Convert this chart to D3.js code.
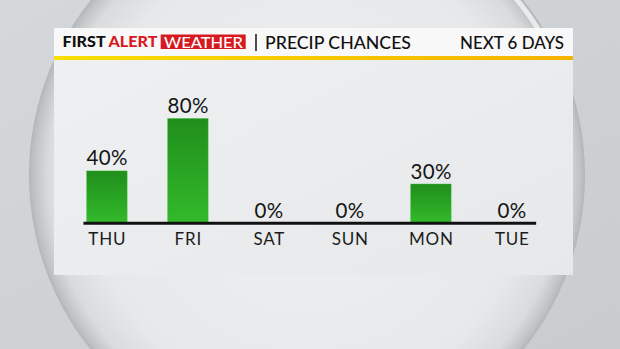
<!DOCTYPE html>
<html>
<head>
<meta charset="utf-8">
<script src="https://cdn.jsdelivr.net/npm/d3@7"></script>
<style>
  body { margin: 0; background: #d1d4d6; }
  svg { display: block; }
  .hdr { font-family: Lato, "Open Sans", sans-serif; fill: #111; }
  .val { font-family: Lato, "Open Sans", sans-serif; font-size: 20.5px; fill: #141414; text-anchor: middle; letter-spacing: 0.4px; }
  .day { font-family: Lato, "Open Sans", sans-serif; font-size: 17px; fill: #1c1c1c; text-anchor: middle; letter-spacing: 0.8px; }
</style>
</head>
<body>
<div id="chart"></div>
<script>
// chart data
var days = ["THU", "FRI", "SAT", "SUN", "MON", "TUE"];
var chances = [40, 80, 0, 0, 30, 0];
var valueLabels = ["40%", "80%", "0%", "0%", "30%", "0%"];

var width = 620, height = 349;

var svg = d3.select("#chart").append("svg")
    .attr("width", width)
    .attr("height", height);

var defs = svg.append("defs");

// background + the big sphere behind the panel
var bgGrad = defs.append("linearGradient").attr("id", "bg")
    .attr("x1", 0).attr("y1", 0).attr("x2", 1).attr("y2", 1);
bgGrad.append("stop").attr("offset", 0).attr("stop-color", "#d5d8da");
bgGrad.append("stop").attr("offset", 1).attr("stop-color", "#c9cccf");

var sphere = defs.append("radialGradient").attr("id", "sphere")
    .attr("cx", 0.5).attr("cy", 0.5).attr("r", 0.5);
sphere.append("stop").attr("offset", 0).attr("stop-color", "#f0f1f2");
sphere.append("stop").attr("offset", 0.8).attr("stop-color", "#e6e8e9");
sphere.append("stop").attr("offset", 0.93).attr("stop-color", "#d9dbdd");
sphere.append("stop").attr("offset", 0.985).attr("stop-color", "#bfc2c4");
sphere.append("stop").attr("offset", 1).attr("stop-color", "#b3b6b8");

svg.append("rect").attr("width", width).attr("height", height).attr("fill", "url(#bg)");

svg.append("circle")
    .attr("cx", 307).attr("cy", 175).attr("r", 278)
    .attr("fill", "url(#sphere)");

// light rim on the right side of the sphere
svg.append("path")
    .attr("d", d3.arc()({innerRadius: 271, outerRadius: 276, startAngle: 0.25, endAngle: 1.2}))
    .attr("transform", "translate(307,175)")
    .attr("fill", "#f2f4f5")
    .attr("opacity", 0.8);

// panel
var panel = {x: 54, y: 28, w: 519, h: 247, head: 28, stripe: 4};

var panelGrad = defs.append("linearGradient").attr("id", "panel")
    .attr("x1", 0).attr("y1", 0).attr("x2", 1).attr("y2", 1);
panelGrad.append("stop").attr("offset", 0).attr("stop-color", "#eef0f1");
panelGrad.append("stop").attr("offset", 1).attr("stop-color", "#e6e8ea");

svg.append("rect")
    .attr("x", panel.x).attr("y", panel.y)
    .attr("width", panel.w).attr("height", panel.h)
    .attr("fill", "url(#panel)");

svg.append("rect")
    .attr("x", panel.x).attr("y", panel.y)
    .attr("width", panel.w).attr("height", panel.head)
    .attr("fill", "#f8f8f8");

var stripeGrad = defs.append("linearGradient").attr("id", "stripe");
stripeGrad.append("stop").attr("offset", 0).attr("stop-color", "#f8df00");
stripeGrad.append("stop").attr("offset", 1).attr("stop-color", "#f6b200");

svg.append("rect")
    .attr("x", panel.x).attr("y", panel.y + panel.head)
    .attr("width", panel.w).attr("height", panel.stripe)
    .attr("fill", "url(#stripe)");

// header texts
var hdr = svg.append("g").attr("class", "hdr");

var brand = hdr.append("text")
    .attr("x", 62.5).attr("y", 47)
    .attr("font-size", 15).attr("font-weight", 900)
    .attr("textLength", 95).attr("lengthAdjust", "spacingAndGlyphs");
brand.append("tspan").text("FIRST ");
brand.append("tspan").attr("fill", "#d71920").text("ALERT");

hdr.append("rect")
    .attr("x", 160.7).attr("y", 34.5)
    .attr("width", 85).attr("height", 14.5)
    .attr("fill", "#d71920");

hdr.append("text")
    .attr("x", 164).attr("y", 47.5)
    .attr("font-size", 15.5).attr("font-weight", 500)
    .attr("fill", "#ffffff")
    .attr("textLength", 79).attr("lengthAdjust", "spacingAndGlyphs")
    .text("WEATHER");

hdr.append("line")
    .attr("x1", 256).attr("x2", 256)
    .attr("y1", 34).attr("y2", 51)
    .attr("stroke", "#222").attr("stroke-width", 1.6);

hdr.append("text")
    .attr("x", 265).attr("y", 49.3)
    .attr("font-size", 17.5).attr("font-weight", 500)
    .attr("textLength", 146).attr("lengthAdjust", "spacingAndGlyphs")
    .text("PRECIP CHANCES");

hdr.append("text")
    .attr("x", 460).attr("y", 49.3)
    .attr("font-size", 17.5).attr("font-weight", 500)
    .attr("textLength", 104).attr("lengthAdjust", "spacingAndGlyphs")
    .text("NEXT 6 DAYS");

// scales
var x = d3.scaleBand()
    .domain(days)
    .range([66.4, 552.4])
    .paddingInner(0.5)
    .paddingOuter(0.25);

var y = d3.scaleLinear()
    .domain([0, 100])
    .range([223.3, 92.3]);

var barGrad = defs.append("linearGradient").attr("id", "bar")
    .attr("x1", 0).attr("y1", 0).attr("x2", 0).attr("y2", 1);
barGrad.append("stop").attr("offset", 0).attr("stop-color", "#208e1b");
barGrad.append("stop").attr("offset", 1).attr("stop-color", "#33ba2b");

var data = days.map(function(d, i){
    return {day: d, value: chances[i], label: valueLabels[i]};
});

svg.append("g").selectAll("rect")
    .data(data.filter(function(d){ return d.value > 0; }))
    .enter()
    .append("rect")
    .attr("x", function(d){ return x(d.day); })
    .attr("y", function(d){ return y(d.value); })
    .attr("width", x.bandwidth())
    .attr("height", function(d){ return y(0) - y(d.value); })
    .attr("fill", "url(#bar)")
    .attr("stroke", "#3cc434")
    .attr("stroke-opacity", 0.5)
    .attr("stroke-width", 0.8);

// baseline
svg.append("line")
    .attr("x1", x(days[0]) - 3.2)
    .attr("x2", x(days[days.length - 1]) + x.bandwidth() + 4)
    .attr("y1", y(0)).attr("y2", y(0))
    .attr("stroke", "#111")
    .attr("stroke-width", 3);

// value labels
svg.append("g").selectAll("text")
    .data(data)
    .enter()
    .append("text")
    .attr("class", "val")
    .attr("x", function(d){ return x(d.day) + x.bandwidth() / 2 + 0.2; })
    .attr("y", function(d){ return y(d.value) - 5.5; })
    .text(function(d){ return d.label; });

// day labels
svg.append("g").selectAll("text")
    .data(data)
    .enter()
    .append("text")
    .attr("class", "day")
    .attr("x", function(d){ return x(d.day) + x.bandwidth() / 2 + 0.4; })
    .attr("y", 245)
    .text(function(d){ return d.day; });
</script>
</body>
</html>
